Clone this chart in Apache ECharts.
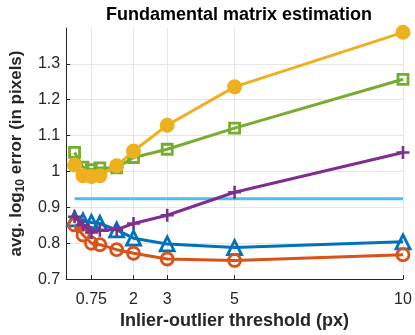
<!DOCTYPE html>
<html>
<head>
<meta charset="utf-8">
<script src="https://cdn.jsdelivr.net/npm/echarts@6/dist/echarts.min.js"></script>
<style>
  html, body { margin: 0; padding: 0; background: #fff; }
  #chart { width: 415px; height: 335px; }
</style>
</head>
<body>
<div id="chart"></div>
<script>
// thresholds (px) on the x axis
const thresholds = [0.25, 0.5, 0.75, 1, 1.5, 2, 3, 5, 10]
const xTicks = [0.75, 2, 3, 5, 10]
const yTicks = [0.7, 0.8, 0.9, 1, 1.1, 1.2, 1.3]

// avg log10 error per method
const blueTri = [0.868, 0.862, 0.858, 0.855, 0.837, 0.814, 0.798, 0.788, 0.804]
const orangeCirc = [0.851, 0.823, 0.800, 0.796, 0.782, 0.772, 0.756, 0.752, 0.768]
const yellowDot = [1.018, 0.988, 0.986, 0.988, 1.016, 1.057, 1.129, 1.236, 1.388]
const purplePlus = [0.874, 0.851, 0.830, 0.836, 0.838, 0.855, 0.878, 0.942, 1.053]
const greenSq = [1.053, 1.012, 1.005, 1.010, 1.010, 1.039, 1.062, 1.121, 1.257]
const baselineX = [0.25, 10]
const baseline = [0.924, 0.924]

const pairs = (xs, ys) => xs.map((x, i) => [x, ys[i]])
const FONT = 'Liberation Sans, Arial, sans-serif'
const AX = '#262626'
const plusPath = 'path://M4,0h2v4h4v2h-4v4h-2v-4h-4v-2h4z'

function lineSeries(name, data, color, symbol, size, hollow, z) {
  return {
    name: name,
    type: 'line',
    data: data,
    symbol: symbol,
    symbolSize: size,
    showAllSymbol: true,
    z: z,
    lineStyle: { color: color, width: 3 },
    itemStyle: hollow
      ? { color: 'rgba(0,0,0,0)', borderColor: color, borderWidth: 2.8 }
      : { color: color, borderWidth: 0 },
    emphasis: { disabled: true },
    animation: false
  }
}

const chart = echarts.init(document.getElementById('chart'))
chart.setOption({
  backgroundColor: '#fff',
  title: {
    text: 'Fundamental matrix estimation',
    left: 234,
    top: 1,
    textAlign: 'center',
    textStyle: { fontFamily: FONT, fontSize: 18, fontWeight: 'bold', color: '#000' }
  },
  grid: { left: 64, right: 12, top: 28, bottom: 52 },
  xAxis: {
    type: 'value',
    min: 0,
    max: 10,
    name: 'Inlier-outlier threshold (px)',
    nameLocation: 'middle',
    nameGap: 32,
    nameTextStyle: { fontFamily: FONT, fontSize: 18, fontWeight: 'bold', color: AX },
    axisLine: { show: true, lineStyle: { color: AX, width: 1 } },
    axisTick: { show: true, inside: true, length: 4, customValues: xTicks, lineStyle: { color: AX } },
    axisLabel: { customValues: xTicks, margin: 12, fontFamily: FONT, fontSize: 16, color: AX },
    splitLine: { show: true, lineStyle: { color: '#e6e6e6', width: 1 } }
  },
  yAxis: {
    type: 'value',
    min: 0.7,
    max: 1.4,
    interval: 0.1,
    name: 'avg. log{sub|10} error (in pixels)',
    nameLocation: 'middle',
    nameGap: 37,
    nameRotate: 90,
    nameTextStyle: {
      fontFamily: FONT, fontSize: 17, fontWeight: 'bold', color: AX,
      rich: { sub: { fontFamily: FONT, fontSize: 12, fontWeight: 'bold', color: AX, verticalAlign: 'bottom', padding: [9, 0, 0, 0] } }
    },
    axisLine: { show: true, lineStyle: { color: AX, width: 1 } },
    axisTick: { show: true, inside: true, length: 4, customValues: yTicks, lineStyle: { color: AX } },
    axisLabel: {
      customValues: yTicks, margin: 6, fontFamily: FONT, fontSize: 16, color: AX,
      formatter: v => String(Math.round(v * 10) / 10)
    },
    splitLine: { show: true, lineStyle: { color: '#e6e6e6', width: 1 } }
  },
  series: [
    lineSeries('baseline', pairs(baselineX, baseline), '#4DBEEE', 'none', 0, false, 2),
    lineSeries('blue', pairs(thresholds, blueTri), '#0072BD', 'triangle', 14, true, 3),
    lineSeries('orange', pairs(thresholds, orangeCirc), '#D95319', 'circle', 12, true, 4),
    lineSeries('purple', pairs(thresholds, purplePlus), '#7E2F8E', plusPath, 13, false, 5),
    lineSeries('green', pairs(thresholds, greenSq), '#77AC30', 'rect', 10, true, 6),
    lineSeries('yellow', pairs(thresholds, yellowDot), '#EDB120', 'circle', 15, false, 7)
  ]
})
</script>
</body>
</html>
